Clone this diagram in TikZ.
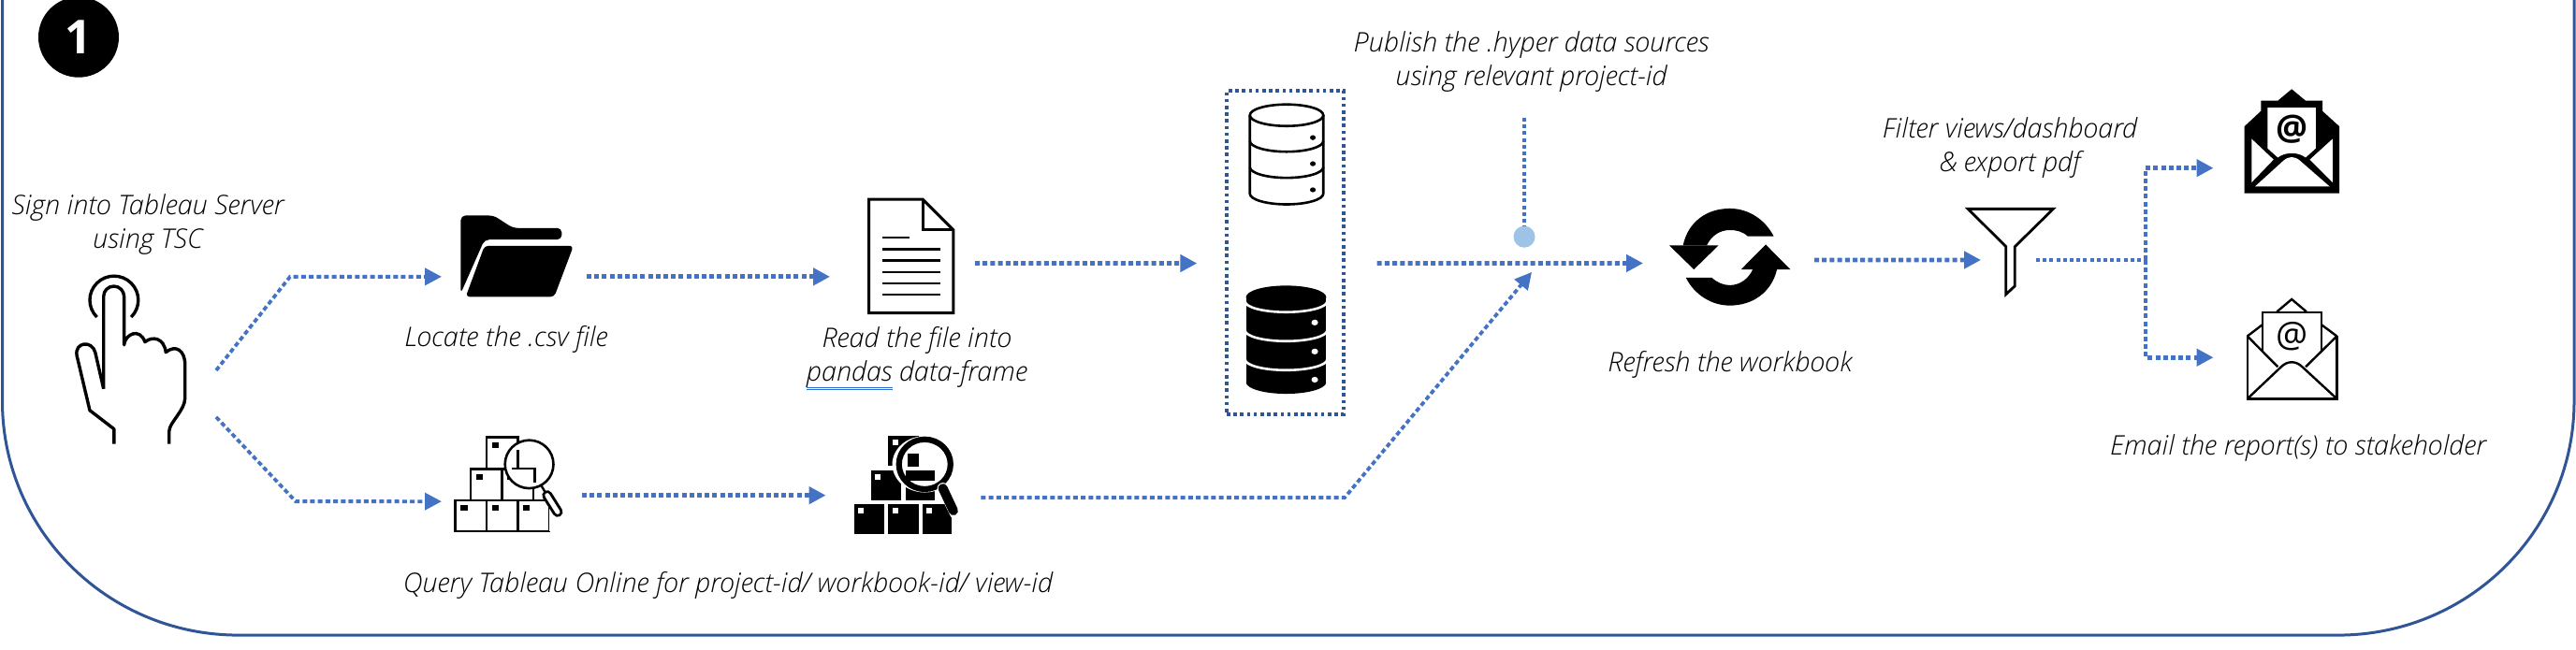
\documentclass[tikz,border=0pt]{standalone}
\usepackage{fontspec}
\setmainfont{Open Sans}[ItalicFont={Open Sans Light Italic}]
\usetikzlibrary{arrows.meta,calc}
\definecolor{framecol}{HTML}{2F5597}
\definecolor{conncol}{HTML}{4472C4}
\definecolor{dotcol}{HTML}{9DC3E6}
\definecolor{spellblue}{HTML}{2F6FD0}
\newcommand\spellmark[1]{\setbox0\hbox{#1}\rlap{\color{spellblue}\raisebox{-7pt}{\rule{\wd0}{1pt}}\hskip-\wd0\raisebox{-9.5pt}{\rule{\wd0}{1pt}}}\box0\relax}
\tikzset{
  conn/.style={draw=conncol,line width=4.8pt,dash pattern=on 5pt off 3.2pt,-{Triangle[length=18pt,width=18pt]}},
  connthin/.style={draw=conncol,line width=3.6pt,dash pattern=on 4pt off 3.2pt},
  iconbox/.style={inner sep=0pt,outer sep=0pt,minimum height=60pt},
  lbl/.style={font=\itshape\fontsize{28.8}{36}\selectfont,align=center,inner sep=0pt},
  ink/.style={draw=black,line width=3pt,line join=miter},
  thinink/.style={draw=black,line width=2.4pt,line join=miter}
}
\begin{document}
\begin{tikzpicture}[x=1pt,y=-.9928pt]
\useasboundingbox (0,0) rectangle (2753,700.04);
\fill[white] (0,0) rectangle (2753,700.04);
% frame
\draw[framecol,line width=3pt] (2.5,-5) -- (2.5,432) arc[start angle=180,end angle=90,radius=252] -- (2499,684) arc[start angle=90,end angle=0,radius=252] -- (2751,-5);
% badge
\node[circle,fill=black,minimum size=86pt,inner sep=0pt,text=white,font=\bfseries\fontsize{50}{50}\selectfont] (badge) at (84,40) {1};
% hand icon
\begin{scope}[x=.4464pt,y=-.4432pt]
\draw[ink,line width=3.4pt] (232,765) arc[start angle=135,end angle=405,radius=58];
\draw[ink,line width=3.4pt,line join=round] (248,938) -- (248,715) arc[start angle=180,end angle=360,x radius=24.5,y radius=24.5] -- (297,832)
 .. controls (300,805) and (335,790) .. (347,825) .. controls (365,810) and (393,815) .. (397,850)
 .. controls (420,830) and (443,845) .. (443,880) -- (443,960) .. controls (443,990) and (405,1020) .. (405,1040) -- (405,1071);
\draw[ink,line width=3.4pt,line join=round] (248,938) -- (228,850) .. controls (220,820) and (178,825) .. (184,858) -- (215,990) -- (273,1035) -- (273,1071);
% folder
\fill[black,rounded corners=5pt] (1103,708) -- (1103,520) -- (1182,520) -- (1228,550) -- (1345,550) -- (1345,578) -- (1160,578) -- cycle;
\fill[black,rounded corners=4pt] (1115,716) -- (1160,593) -- (1373,593) -- (1327,716) -- cycle;
% outline boxes
\foreach \a/\b in {1090/1207,1165/1207,1240/1207,1127/1132,1202/1132,1165/1055}{
  \draw[thinink,line width=2.6pt] (\a,\b) rectangle ++(75,75);
  \fill[black] (\a+13,\b+12) rectangle ++(16,14);
}
\fill[white] (1267,1120) circle[radius=58];
\draw[thinink,line width=2.6pt] (1267,1120) circle[radius=58];
\draw[thinink,line width=2.6pt] (1240,1085) -- (1240,1130) (1225,1130) -- (1280,1130) -- (1280,1165);
\fill[white] (1316,1207) rectangle (1330,1282);
\draw[black,line width=11pt,line cap=round] (1310,1195) -- (1335,1235);
\draw[white,line width=5pt,line cap=round] (1310,1195) -- (1335,1235);
\draw[black,line width=2.4pt] (1295,1170) -- (1305,1187);
\end{scope}
\begin{scope}[shift={(700,0)},x=.5102pt,y=-.4432pt]
% document
\draw[ink] (448,481) -- (561,481) -- (625,555) -- (625,755) -- (448,755) -- cycle;
\draw[ink] (561,481) -- (561,555) -- (625,555);
\draw[black,line width=2.6pt] (477,573) -- (533,573);
\foreach \y in {601,629,657,684,711}{\draw[black,line width=2.6pt] (477,\y) -- (597,\y);}
% black boxes
\foreach \a/\b/\w in {417/1217/63,489/1217/63,561/1217/60,453/1135/63,525/1135/62,489/1052/63}{
  \fill[black] (\a,\b) rectangle ++(\w,71);
  \fill[white] (\a+8,\b+8) rectangle ++(12,14);
}
\fill[white] (565,1120) circle[radius=68];
\fill[black] (530,1095) -- (552,1095) -- (552,1125) -- (530,1125) -- cycle;
\fill[black] (525,1135) rectangle (587,1160);
\draw[black,line width=6.2pt] (565,1120) circle[x radius=54,y radius=60];
\draw[white,line width=12pt,line cap=round] (603,1178) -- (630,1240);
\draw[black,line width=10pt,line cap=round] (603,1178) -- (625,1232);
% outline database
\draw[ink,line width=2.6pt] (1323,278) ellipse[x radius=77,y radius=26];
\draw[ink,line width=2.6pt] (1246,278) -- (1246,467) arc[start angle=180,end angle=0,x radius=77,y radius=26] -- (1400,278);
\draw[ink,line width=2.6pt] (1246,340) arc[start angle=180,end angle=0,x radius=77,y radius=26];
\draw[ink,line width=2.6pt] (1246,403) arc[start angle=180,end angle=0,x radius=77,y radius=26];
\foreach \y in {332,395,458}{\fill[black] (1378,\y) ellipse[x radius=6,y radius=6];}
% filled database
\fill[black] (1322,717) ellipse[x radius=84,y radius=28];
\fill[black] (1238,717) rectangle (1406,922);
\fill[black] (1238,922) arc[start angle=180,end angle=0,x radius=84,y radius=28] -- cycle;
\foreach \y in {727,797,867}{\draw[white,line width=2.6pt] (1236,\y) arc[start angle=180,end angle=0,x radius=86,y radius=26];}
\foreach \y in {778,848,916}{\fill[white] (1382,\y) ellipse[x radius=7,y radius=7];}
\end{scope}
\begin{scope}[shift={(1400,0)},x=.4464pt,y=-.4432pt]
% refresh
\fill[black] (860,592) -- (978,592) -- (919,650) -- cycle;
\fill[black] (893,592) .. controls (905,535) and (950,503) .. (1005,503) .. controls (1050,503) and (1090,530) .. (1110,570) -- (1048,570) .. controls (1035,558) and (1020,555) .. (1005,555) .. controls (980,555) and (960,570) .. (950,592) -- cycle;
\fill[black] (1150,650) -- (1032,650) -- (1091,590) -- cycle;
\fill[black] (1118,650) .. controls (1105,705) and (1060,737) .. (1005,737) .. controls (960,737) and (920,710) .. (900,670) -- (962,670) .. controls (975,682) and (990,688) .. (1005,688) .. controls (1030,688) and (1050,672) .. (1060,650) -- cycle;
\end{scope}
\begin{scope}[shift={(2050,0)},x=.451pt,y=-.4432pt]
% funnel
\draw[thinink,line width=2.8pt] (118,504) -- (320,504) -- (229,595) -- (229,690) -- (208,710) -- (208,595) -- cycle;
% black mail
\fill[black] (773,466) -- (998,466) -- (998,305) -- (958,268) -- (958,243) -- (918,243) -- (885,215) -- (852,243) -- (812,243) -- (812,268) -- (773,305) -- cycle;
\fill[white] (828,260) -- (942,260) -- (942,358) -- (918,380) .. controls (900,366) and (870,366) .. (852,380) -- (828,358) -- cycle;
\fill[white] (790,335) -- (842,385) -- (790,440) -- cycle;
\fill[white] (982,335) -- (928,385) -- (982,440) -- cycle;
\fill[white] (798,450) -- (865,388) .. controls (878,376) and (892,376) .. (905,388) -- (975,450) -- cycle;
\node[inner sep=0pt,font=\bfseries\fontsize{38}{38}\selectfont] (atblack) at (885,311) {@};
% outline mail
\draw[thinink] (780,811) -- (780,962) -- (992,962) -- (992,811);
\draw[thinink] (780,811) -- (852,885) (992,811) -- (918,885);
\draw[thinink] (780,962) -- (860,885) .. controls (875,870) and (895,870) .. (910,885) -- (992,962);
\draw[thinink] (780,811) -- (816,783) (992,811) -- (955,783);
\draw[thinink] (850,752) -- (885,722) -- (920,752);
\draw[thinink] (816,848) -- (816,753) -- (955,753) -- (955,848);
\node[inner sep=0pt,font=\fontsize{38}{38}\selectfont] (atoutline) at (885,812) {@};
\end{scope}
% anchors of the connectors (icon areas)
\node[iconbox,minimum width=1pt] (hand) at (230.5,424) {};
\node[iconbox,minimum width=155pt] (folder) at (549.5,298) {};
\node[iconbox,minimum width=155pt] (doc) at (964.5,283.5) {};
\node[iconbox,minimum width=150pt] (boxesA) at (547,533.5) {};
\node[iconbox,minimum width=165.9pt] (boxesB) at (965.5,533.5) {};
\node[iconbox,minimum width=183pt] (refresh) at (1847.5,283.5) {};
\node[iconbox,minimum width=59pt] (funnel) at (2146.5,280) {};
\node[iconbox,minimum width=1pt] (mailA) at (2366,181) {};
\node[iconbox,minimum width=1pt] (mailB) at (2366,385) {};
\node[draw=framecol,line width=3.4pt,dash pattern=on 3.6pt off 3.6pt,minimum width=125pt,minimum height=346pt,inner sep=0pt] (dbgroup) at (1373.5,272) {};
\node[circle,fill=dotcol,minimum size=23pt,inner sep=0pt] (pubdot) at (1629,255) {};
% free connector ends and bends
\coordinate (bendA) at (310,298);
\coordinate (bendB) at (316,540);
\coordinate (bendC) at (1437,536);
\coordinate (tipC) at (1637,293);
\coordinate (pubtop) at (1629,127);
\coordinate (forkmid) at (2293,280);
\coordinate (forktop) at (2293,181);
\coordinate (forkbot) at (2293,385);
% connectors
\draw[conn,line width=3.8pt] ([yshift=25pt]hand.east) -- (bendA) -- (folder.west);
\draw[conn,line width=3.8pt] ([yshift=-25pt]hand.east) -- (bendB) -- ([yshift=-6.5pt]boxesA.west);
\draw[conn] (folder.east) -- (doc.west |- folder.east);
\draw[conn] (doc.east) -- ([xshift=-30pt,yshift=-11.5pt]dbgroup.west);
\draw[conn] ([xshift=34pt,yshift=-11.5pt]dbgroup.east) -- (refresh.west);
\draw[conn] (boxesA.east) -- (boxesB.west);
\draw[conn,line width=3.8pt] (boxesB.east |- bendC) -- (bendC) -- (tipC);
\draw[conn] ([yshift=3.5pt]refresh.east) -- (funnel.west);
\draw[connthin] (pubtop) -- (pubdot);
\draw[connthin] (funnel.east) -- (forkmid);
\draw[conn] (forkmid) -- (forktop) -- (mailA);
\draw[conn] (forkmid) -- (forkbot) -- (mailB);
% labels
\node[lbl] (signin) at (158,242) {Sign into Tableau Server\\using TSC};
\node[lbl] (locate) at (541,366) {Locate the .csv file};
\node[lbl] (query) at (778,630) {Query Tableau Online for project-id/ workbook-id/ view-id};
\node[lbl] (readfile) at (980,386.5) {Read the file into\\\spellmark{pandas} data-frame};
\node[lbl] (publish) at (1636.6,67) {Publish the .hyper data sources\\using relevant project-id};
\node[lbl] (refreshlbl) at (1849,393) {Refresh the workbook};
\node[lbl] (filterlbl) at (2148,159) {Filter views/dashboard\\\& export pdf};
\node[lbl] (email) at (2456,482) {Email the report(s) to stakeholder};
\end{tikzpicture}
\end{document}
